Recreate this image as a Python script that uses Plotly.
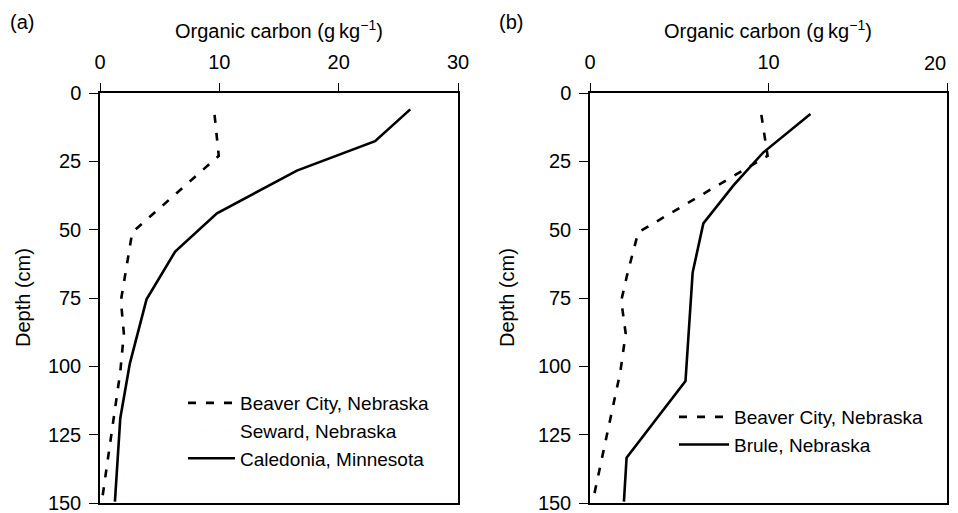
import plotly.graph_objects as go

# ---- data ----
beaver_depth = [8, 23, 51, 66, 76, 88, 102, 148]
beaver_oc = [9.6, 9.95, 2.7, 2.1, 1.75, 2.0, 1.7, 0.2]

seward_depth = [90, 116, 150]
seward_oc = [2.0, 1.4, 2.2]

caledonia_depth = [6, 17.6, 28.4, 44, 58, 75.5, 99, 119, 149.5]
caledonia_oc = [26.0, 23.05, 16.5, 9.8, 6.3, 3.9, 2.5, 1.7, 1.25]

brule_depth = [7.7, 21.8, 33.7, 47.7, 65.7, 105.4, 133.4, 149.5]
brule_oc = [12.35, 9.7, 8.05, 6.35, 5.75, 5.35, 2.05, 1.9]

depth_ticks = [0, 25, 50, 75, 100, 125, 150]
left_x_ticks = [0, 10, 20, 30]
right_x_ticks = [0, 10, 20]
# the last label on the right panel is pulled inside the figure (drawn as an annotation)
right_x_ticktext = ["0", "10", ""]
right_x_last_label = "20"

# page has an 8px body margin: figure is drawn from (8, 8)
OFF = 8
W, H = 958 - OFF, 513 - OFF
FONT = "Liberation Sans, Arial, Helvetica, sans-serif"

def px_x(p):
    return (p - OFF) / W

def px_y(p):
    return 1 - (p - OFF) / H

fig = go.Figure()

DASH = "8px,10px"

fig.add_trace(go.Scatter(x=beaver_oc, y=beaver_depth, mode="lines",
                         name="Beaver City, Nebraska", legend="legend",
                         line=dict(color="black", width=2.6, dash=DASH),
                         xaxis="x", yaxis="y"))
fig.add_trace(go.Scatter(x=seward_oc, y=seward_depth, mode="lines",
                         name="Seward, Nebraska", legend="legend",
                         line=dict(color="rgba(0,0,0,0.015)", width=1, dash="dot"),
                         xaxis="x", yaxis="y"))
fig.add_trace(go.Scatter(x=caledonia_oc, y=caledonia_depth, mode="lines",
                         name="Caledonia, Minnesota", legend="legend",
                         line=dict(color="black", width=2.6),
                         xaxis="x", yaxis="y"))

fig.add_trace(go.Scatter(x=beaver_oc, y=beaver_depth, mode="lines",
                         name="Beaver City, Nebraska", legend="legend2",
                         line=dict(color="black", width=2.6, dash=DASH),
                         xaxis="x2", yaxis="y2"))
fig.add_trace(go.Scatter(x=brule_oc, y=brule_depth, mode="lines",
                         name="Brule, Nebraska", legend="legend2",
                         line=dict(color="black", width=2.6),
                         xaxis="x2", yaxis="y2"))

ydom = [px_y(503), px_y(93)]

common_x = dict(side="top", showgrid=False, zeroline=False, showline=True,
                linecolor="black", linewidth=1.5, mirror=True, automargin=False,
                ticks="outside", ticklen=8, tickwidth=1.2, tickcolor="black",
                tickfont=dict(size=20, color="black", family=FONT),
                ticklabelstandoff=6, ticklabeloverflow="allow")
common_y = dict(showgrid=False, zeroline=False, showline=True,
                linecolor="black", linewidth=1.5, mirror=True, automargin=False,
                ticks="outside", ticklen=9, tickwidth=1.2, tickcolor="black",
                tickfont=dict(size=20, color="black", family=FONT),
                tickvals=depth_ticks, range=[150, 0], ticklabelstandoff=4,
                ticklabeloverflow="allow")

fig.update_layout(
    template="none",
    width=W, height=H,
    margin=dict(l=0, r=0, t=0, b=0, pad=0),
    paper_bgcolor="white", plot_bgcolor="white",
    font=dict(family=FONT, size=20, color="black"),
    xaxis=dict(domain=[px_x(100), px_x(458)], range=[0, 30],
               tickvals=left_x_ticks, anchor="y", **common_x),
    yaxis=dict(domain=ydom, anchor="x", **common_y),
    xaxis2=dict(domain=[px_x(590), px_x(947)], range=[0, 20],
                tickvals=right_x_ticks, ticktext=right_x_ticktext,
                anchor="y2", **common_x),
    yaxis2=dict(domain=ydom, anchor="x2", **common_y),
    legend=dict(x=px_x(183), y=px_y(384), xanchor="left", yanchor="top",
                bgcolor="rgba(0,0,0,0)", font=dict(size=19, family=FONT),
                itemwidth=47, tracegroupgap=0),
    legend2=dict(x=px_x(674), y=px_y(398), xanchor="left", yanchor="top",
                 bgcolor="rgba(0,0,0,0)", font=dict(size=19, family=FONT),
                 itemwidth=50, tracegroupgap=0),
    showlegend=True,
)

ann = [
    dict(text="(a)", x=px_x(8), y=px_y(22), xanchor="left", yanchor="middle"),
    dict(text="(b)", x=px_x(497), y=px_y(22), xanchor="left", yanchor="middle"),
    dict(text="Organic carbon (g\u2009kg<sup>\u22121</sup>)", x=px_x(279), y=px_y(29),
         xanchor="center", yanchor="middle"),
    dict(text="Organic carbon (g\u2009kg<sup>\u22121</sup>)", x=px_x(768), y=px_y(29),
         xanchor="center", yanchor="middle"),
    dict(text="Depth (cm)", x=px_x(23), y=px_y(298), textangle=-90,
         xanchor="center", yanchor="middle"),
    dict(text="Depth (cm)", x=px_x(507), y=px_y(298), textangle=-90,
         xanchor="center", yanchor="middle"),
]
for a in ann:
    a.update(xref="paper", yref="paper", showarrow=False,
             font=dict(size=20, color="black", family=FONT))
ann.append(dict(text=right_x_last_label, xref="x2", x=right_x_ticks[-1],
                yref="paper", y=px_y(63), xanchor="right", yanchor="middle",
                xshift=1, showarrow=False,
                font=dict(size=20, color="black", family=FONT)))
fig.update_layout(annotations=ann)

fig.write_html("out.html")
